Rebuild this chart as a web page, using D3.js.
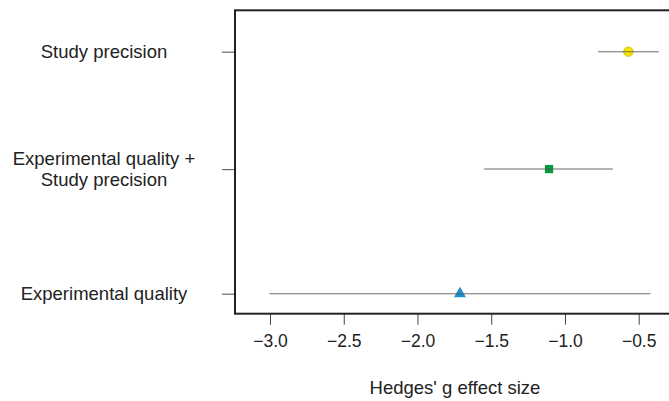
<!DOCTYPE html>
<html>
<head>
<meta charset="utf-8">
<script src="https://cdn.jsdelivr.net/npm/d3@7"></script>
<style>
  body { margin: 0; background: #fff; }
  svg { display: block; font-family: "Liberation Sans", Arial, sans-serif; }
</style>
</head>
<body>
<svg id="chart"></svg>
<script>
// rows, top to bottom
const models = [["Study precision"], ["Experimental quality +", "Study precision"], ["Experimental quality"]];
const rowPos = [3, 2.03, 1];
const estimate = [-0.57, -1.108, -1.712];
const lower = [-0.776, -1.55, -3.004];
const upper = [-0.364, -0.675, -0.42];
const shapes = ["circle", "square", "triangle"];
const colors = ["#f2e400", "#009a3e", "#1b8fd6"];
const xTicks = [-3.0, -2.5, -2.0, -1.5, -1.0, -0.5];

const WIDTH = 669, HEIGHT = 401;
const BOX = { left: 235, top: 10.3, bottom: 313.7, right: 675 };

const svg = d3.select("#chart").attr("width", WIDTH).attr("height", HEIGHT);

const xScale = d3.scaleLinear().domain([-3, -0.5]).range([270, 638.7]);
const yScale = d3.scaleLinear().domain([1, 3]).range([293.7, 51.7]);

// x axis
const xAxis = d3.axisBottom(xScale)
    .tickValues(xTicks)
    .tickSize(11)
    .tickPadding(10)
    .tickFormat(d3.format(".1f"));

const gx = svg.append("g")
    .attr("transform", "translate(0," + BOX.bottom + ")")
    .call(xAxis);
gx.select(".domain").remove();
gx.selectAll(".tick line").attr("stroke", "#444").attr("stroke-width", 1);
gx.selectAll(".tick text")
    .attr("font-size", "17.5px")
    .attr("fill", "#222")
    .attr("font-family", "Liberation Sans, Arial, sans-serif");

// y axis
const yAxis = d3.axisLeft(yScale).tickValues(rowPos).tickSize(13).tickFormat("");
const gy = svg.append("g")
    .attr("transform", "translate(" + BOX.left + ",0)")
    .call(yAxis);
gy.select(".domain").remove();
gy.selectAll(".tick line").attr("stroke", "#666").attr("stroke-width", 1.2);

// row labels
const lbl = svg.append("g").selectAll("text")
    .data(models)
    .enter()
    .append("text")
    .attr("text-anchor", "middle")
    .attr("x", 104)
    .attr("y", (d, i) => yScale(rowPos[i]))
    .attr("font-size", "18.5px")
    .attr("fill", "#222");
lbl.each(function (d) {
    const t = d3.select(this);
    const n = d.length;
    d.forEach((line, k) => {
        t.append("tspan")
            .attr("x", 104)
            .attr("dy", k === 0 ? (0.35 - (n - 1) * 0.575) + "em" : "1.15em")
            .text(line);
    });
});

// plot box
svg.append("rect")
    .attr("x", BOX.left)
    .attr("y", BOX.top)
    .attr("width", BOX.right - BOX.left)
    .attr("height", BOX.bottom - BOX.top)
    .attr("fill", "none")
    .attr("stroke", "#222")
    .attr("stroke-width", 2);

// markers
const sym = { circle: d3.symbolCircle, square: d3.symbolSquare, triangle: d3.symbolTriangle };
const sizes = { circle: 70, square: 68, triangle: 62 };
svg.append("g").selectAll("path")
    .data(estimate)
    .enter()
    .append("path")
    .attr("transform", (d, i) => "translate(" + xScale(d) + "," + (yScale(rowPos[i]) + (shapes[i] === "triangle" ? 0 : 0)) + ")")
    .attr("d", (d, i) => d3.symbol().type(sym[shapes[i]]).size(sizes[shapes[i]])())
    .attr("fill", (d, i) => colors[i])
    .attr("stroke", (d, i) => shapes[i] === "circle" ? "#c9b800" : "none")
    .attr("stroke-width", 0.8);

// confidence intervals
svg.append("g").selectAll("line")
    .data(estimate)
    .enter()
    .append("line")
    .attr("x1", (d, i) => xScale(lower[i]))
    .attr("x2", (d, i) => xScale(upper[i]))
    .attr("y1", (d, i) => yScale(rowPos[i]))
    .attr("y2", (d, i) => yScale(rowPos[i]))
    .attr("stroke", "#555")
    .attr("stroke-width", 1.1)
    .attr("stroke-opacity", 0.85);

// x title
svg.append("text")
    .attr("x", 455)
    .attr("y", 394)
    .attr("text-anchor", "middle")
    .attr("font-size", "18.5px")
    .attr("fill", "#222")
    .text("Hedges' g effect size");
</script>
</body>
</html>
